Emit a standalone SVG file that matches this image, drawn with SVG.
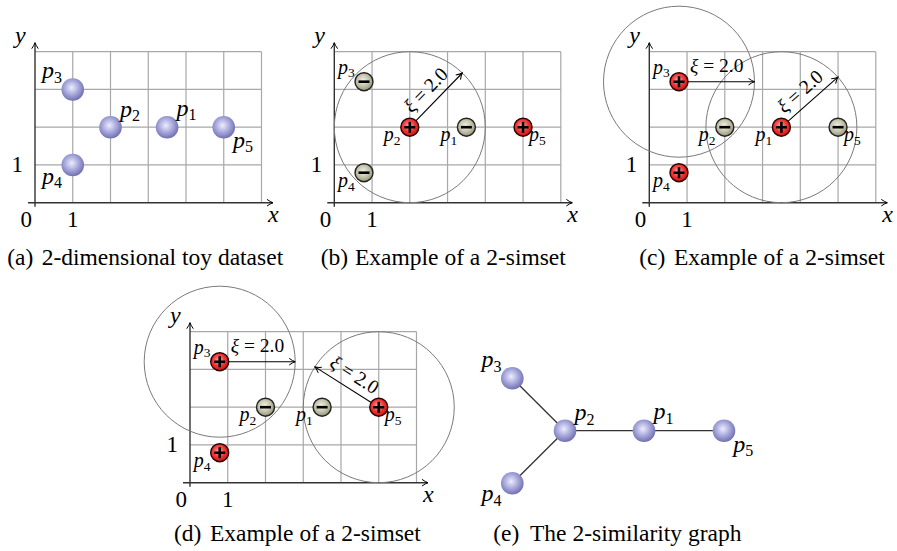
<svg xmlns="http://www.w3.org/2000/svg" width="897" height="551" viewBox="0 0 897 551" font-family="'Liberation Serif', 'Times New Roman', serif">
<style>
text{font-family:'Liberation Serif','Times New Roman',serif;fill:#000}
.grid{stroke:#a8a8a8;stroke-width:1.2;fill:none}
.axis{stroke:#333;stroke-width:1.4;fill:none;marker-end:url(#ah)}
.ball{fill:none;stroke:#7a7a7a;stroke-width:1}
.arr{stroke:#000;stroke-width:1.1;fill:none;marker-end:url(#ah)}
.edge{stroke:#333;stroke-width:1.3;fill:none}
.pl{font-style:italic;font-size:24px}
.pl tspan{font-style:normal;font-size:16px}
.ps{font-style:italic;font-size:20px}
.ps tspan{font-style:normal;font-size:13.5px}
.tick{font-size:23px}
.ax{font-style:italic;font-size:24px}
.xi{font-size:19.5px}
.xi tspan{font-style:italic}
.cap{font-size:23.5px}
</style>
<defs>
<radialGradient id="gb" cx="0.45" cy="0.42" r="0.62">
<stop offset="0" stop-color="#ececff"/><stop offset="0.55" stop-color="#a2a2d8"/><stop offset="1" stop-color="#6868aa"/>
</radialGradient>
<radialGradient id="gr" cx="0.45" cy="0.42" r="0.62">
<stop offset="0" stop-color="#ffb0b0"/><stop offset="0.5" stop-color="#f23a3a"/><stop offset="1" stop-color="#c80808"/>
</radialGradient>
<radialGradient id="gg" cx="0.45" cy="0.42" r="0.62">
<stop offset="0" stop-color="#f2f2e6"/><stop offset="0.55" stop-color="#c2c2aa"/><stop offset="1" stop-color="#8c8c72"/>
</radialGradient>
<marker id="ah" viewBox="-7 -4 8 8" refX="0" refY="0" markerWidth="8" markerHeight="8" markerUnits="userSpaceOnUse" orient="auto">
<path d="M-6,-3.3 Q-2.5,-0.8 0,0 Q-2.5,0.8 -6,3.3" fill="none" stroke="#000" stroke-width="1"/>
</marker>
<g id="blue"><circle r="11.3" fill="url(#gb)"/></g>
<g id="plus"><circle r="9" fill="url(#gr)" stroke="#2a0000" stroke-width="1.4"/><path d="M-5.5,0H5.5M0,-5.5V5.5" stroke="#000" stroke-width="2.6"/></g>
<g id="minus"><circle r="9" fill="url(#gg)" stroke="#222" stroke-width="1.4"/><path d="M-5.5,0H5.5" stroke="#000" stroke-width="2.6"/></g>
<path id="gridp" d="M37.75,0V-151M75.5,0V-151M113.25,0V-151M151,0V-151M188.75,0V-151M226.5,0V-151M0,-37.75H226.5M0,-75.5H226.5M0,-113.25H226.5M0,-151H226.5"/>
<g id="axes">
<path class="axis" d="M-7,0H238"/>
<path class="axis" d="M0,4V-160"/>
<text class="tick" x="-12" y="-31" text-anchor="end">1</text>
<text class="tick" x="-3" y="24" text-anchor="end">0</text>
<text class="tick" x="37.75" y="24" text-anchor="middle">1</text>
<text class="ax" x="233" y="19">x</text>
<text class="ax" x="-20" y="-160">y</text>
</g>
</defs>

<!-- Panel (a) -->
<g id="panel-a" transform="translate(35,202.7)">
<use href="#gridp" class="grid"/>
<use href="#axes"/>
<g id="a-p3" transform="translate(37.75,-113.25)"><use href="#blue"/><text class="pl" x="-30.7" y="-11">p<tspan dy="4.5">3</tspan></text></g>
<g id="a-p2" transform="translate(75.5,-75.5)"><use href="#blue"/><text class="pl" x="9.5" y="-10.5">p<tspan dy="4.5">2</tspan></text></g>
<g id="a-p1" transform="translate(132.1,-75.5)"><use href="#blue"/><text class="pl" x="9.5" y="-11.5">p<tspan dy="4.5">1</tspan></text></g>
<g id="a-p5" transform="translate(188.75,-75.5)"><use href="#blue"/><text class="pl" x="9.2" y="20.8">p<tspan dy="4.5">5</tspan></text></g>
<g id="a-p4" transform="translate(37.75,-37.75)"><use href="#blue"/><text class="pl" x="-30.8" y="19">p<tspan dy="4.5">4</tspan></text></g>
</g>

<!-- Panel (b) -->
<g id="panel-b" transform="translate(334.3,202.7)">
<use href="#gridp" class="grid"/>
<use href="#axes"/>
<g id="b-connectors">
<circle class="ball" cx="75.5" cy="-75.5" r="75.5"/>
<path class="arr" d="M75.5,-75.5L128,-129.7"/>
<text class="xi" x="96.06" y="-108.2" text-anchor="middle" transform="rotate(-45.9 96.06 -108.2)"><tspan>ξ</tspan> = 2.0</text>
</g>
<g id="b-p3" transform="translate(29.7,-121)"><use href="#minus"/><text class="ps" x="-26" y="-8">p<tspan dy="3.5">3</tspan></text></g>
<g id="b-p2" transform="translate(75.5,-75.5)"><use href="#plus"/><text class="ps" x="-26" y="14">p<tspan dy="3.5">2</tspan></text></g>
<g id="b-p1" transform="translate(132.1,-75.5)"><use href="#minus"/><text class="ps" x="-26" y="14">p<tspan dy="3.5">1</tspan></text></g>
<g id="b-p5" transform="translate(188.75,-75.5)"><use href="#plus"/><text class="ps" x="6" y="14">p<tspan dy="3.5">5</tspan></text></g>
<g id="b-p4" transform="translate(29.7,-30)"><use href="#minus"/><text class="ps" x="-26" y="14.5">p<tspan dy="3.5">4</tspan></text></g>
</g>

<!-- Panel (c) -->
<g id="panel-c" transform="translate(649.3,202.7)">
<use href="#gridp" class="grid"/>
<use href="#axes"/>
<g id="c-connectors">
<circle class="ball" cx="29.7" cy="-121" r="75.5"/>
<circle class="ball" cx="132.1" cy="-75.5" r="75.5"/>
<path class="arr" d="M29.7,-121H105.2"/>
<path class="arr" d="M132.1,-75.5L188.6,-125.5"/>
<text class="xi" x="40.7" y="-131"><tspan>ξ</tspan> = 2.0</text>
<text class="xi" x="155.1" y="-106.5" text-anchor="middle" transform="rotate(-41.5 155.1 -106.5)"><tspan>ξ</tspan> = 2.0</text>
</g>
<g id="c-p3" transform="translate(29.7,-121)"><use href="#plus"/><text class="ps" x="-26" y="-8">p<tspan dy="3.5">3</tspan></text></g>
<g id="c-p2" transform="translate(75.5,-75.5)"><use href="#minus"/><text class="ps" x="-26" y="14">p<tspan dy="3.5">2</tspan></text></g>
<g id="c-p1" transform="translate(132.1,-75.5)"><use href="#plus"/><text class="ps" x="-26" y="14">p<tspan dy="3.5">1</tspan></text></g>
<g id="c-p5" transform="translate(188.75,-75.5)"><use href="#minus"/><text class="ps" x="6" y="14">p<tspan dy="3.5">5</tspan></text></g>
<g id="c-p4" transform="translate(29.7,-30)"><use href="#plus"/><text class="ps" x="-26" y="14.5">p<tspan dy="3.5">4</tspan></text></g>
</g>

<!-- Panel (d) -->
<g id="panel-d" transform="translate(190,482.7)">
<use href="#gridp" class="grid"/>
<use href="#axes"/>
<g id="d-connectors">
<circle class="ball" cx="29.7" cy="-121" r="75.5"/>
<circle class="ball" cx="188.75" cy="-75.5" r="75.5"/>
<path class="arr" d="M29.7,-121H105.2"/>
<path class="arr" d="M188.75,-75.5L124.95,-115.8"/>
<text class="xi" x="40.7" y="-131"><tspan>ξ</tspan> = 2.0</text>
<text class="xi" x="161.1" y="-102.4" text-anchor="middle" transform="rotate(32.3 161.1 -102.4)"><tspan>ξ</tspan> = 2.0</text>
</g>
<g id="d-p3" transform="translate(29.7,-121)"><use href="#plus"/><text class="ps" x="-26" y="-8">p<tspan dy="3.5">3</tspan></text></g>
<g id="d-p2" transform="translate(75.5,-75.5)"><use href="#minus"/><text class="ps" x="-26" y="14">p<tspan dy="3.5">2</tspan></text></g>
<g id="d-p1" transform="translate(132.1,-75.5)"><use href="#minus"/><text class="ps" x="-26" y="14">p<tspan dy="3.5">1</tspan></text></g>
<g id="d-p5" transform="translate(188.75,-75.5)"><use href="#plus"/><text class="ps" x="6" y="14">p<tspan dy="3.5">5</tspan></text></g>
<g id="d-p4" transform="translate(29.7,-30)"><use href="#plus"/><text class="ps" x="-26" y="14.5">p<tspan dy="3.5">4</tspan></text></g>
</g>

<!-- Panel (e) -->
<g id="e-connectors">
<path class="edge" d="M512.3,378.3L565,430.7"/>
<path class="edge" d="M512.3,483.3L565,430.7"/>
<path class="edge" d="M565,430.7H644"/>
<path class="edge" d="M644,430.7H724"/>
</g>
<g id="e-p3" transform="translate(512.3,378.3)"><use href="#blue"/><text class="pl" x="-30.7" y="-11">p<tspan dy="4.5">3</tspan></text></g>
<g id="e-p2" transform="translate(565,430.7)"><use href="#blue"/><text class="pl" x="9.5" y="-10.5">p<tspan dy="4.5">2</tspan></text></g>
<g id="e-p1" transform="translate(644,430.7)"><use href="#blue"/><text class="pl" x="9.5" y="-11.5">p<tspan dy="4.5">1</tspan></text></g>
<g id="e-p5" transform="translate(724,430.7)"><use href="#blue"/><text class="pl" x="9.2" y="20.8">p<tspan dy="4.5">5</tspan></text></g>
<g id="e-p4" transform="translate(512.3,483.3)"><use href="#blue"/><text class="pl" x="-30.8" y="18">p<tspan dy="4.5">4</tspan></text></g>

<!-- Captions -->
<g id="captions">
<text class="cap" x="7.3" y="265">(a)</text><text class="cap" x="41.7" y="265">2-dimensional toy dataset</text>
<text class="cap" x="320.7" y="265">(b)</text><text class="cap" x="355" y="265">Example of a 2-simset</text>
<text class="cap" x="639.3" y="265">(c)</text><text class="cap" x="674" y="265">Example of a 2-simset</text>
<text class="cap" x="174" y="541">(d)</text><text class="cap" x="210" y="541">Example of a 2-simset</text>
<text class="cap" x="493.3" y="541">(e)</text><text class="cap" x="530" y="541">The 2-similarity graph</text>
</g>
</svg>
